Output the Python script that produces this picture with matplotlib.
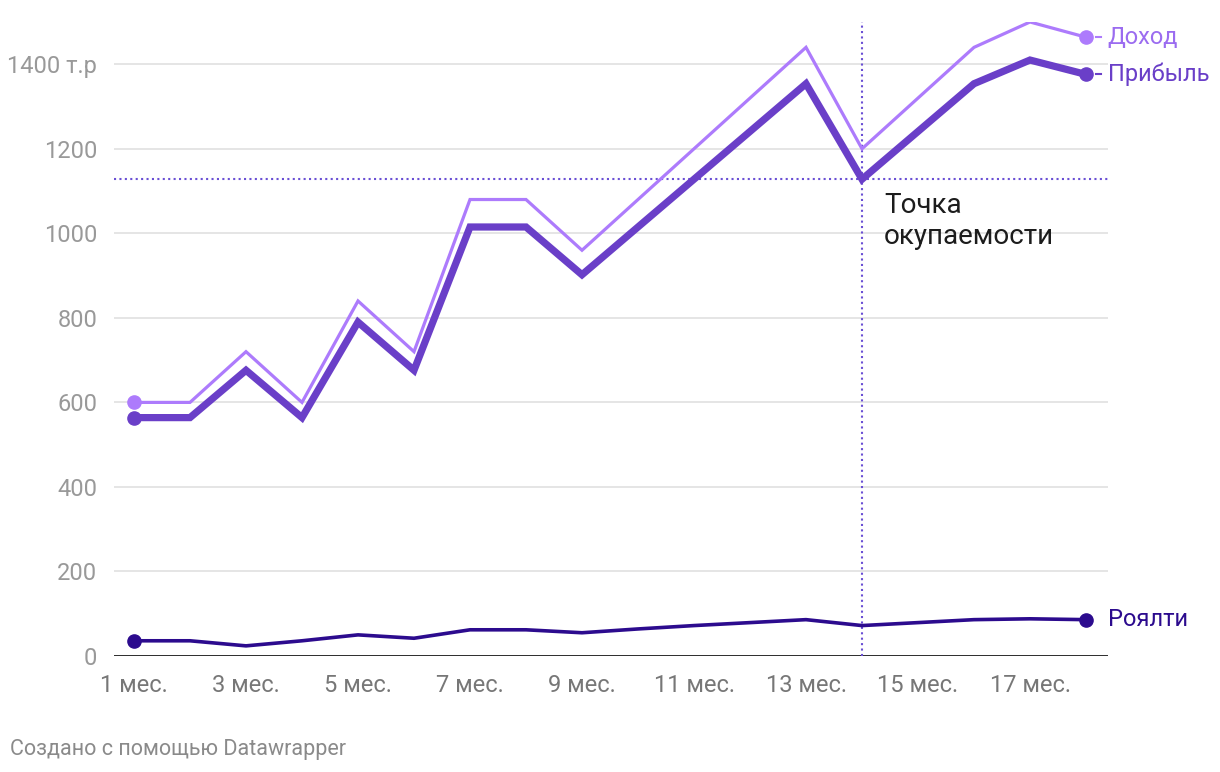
import matplotlib
matplotlib.use("Agg")
import matplotlib.pyplot as plt

plt.rcParams['font.family'] = ['Roboto', 'DejaVu Sans']

months = list(range(1, 19))
income = [600, 600, 720, 600, 840, 720, 1080, 1080, 960, 1080, 1200, 1320, 1440, 1200, 1320, 1440, 1500, 1464]
profit = [564, 564, 676, 564, 790, 676, 1015, 1015, 902, 1015, 1128, 1241, 1354, 1128, 1241, 1354, 1410, 1376]
royalty = [36, 36, 24, 36, 50, 42, 62, 62, 55, 64, 72, 79, 86, 72, 79, 86, 88, 86]
xtick_months = [1, 3, 5, 7, 9, 11, 13, 15, 17]
xtick_labels = [f"{m} мес." for m in xtick_months]
yticks = [0, 200, 400, 600, 800, 1000, 1200, 1400]
ytick_labels = ["0", "200", "400", "600", "800", "1000", "1200", "1400 т.р"]
breakeven_month = 14
breakeven_value = 1128
series_names = ["Доход", "Прибыль", "Роялти"]

c_income = '#ad7bfc'
c_profit = '#6a3fc8'
c_royalty = '#2c0b8e'
c_dot = '#6a4fd4'

W, H = 1220, 772
fig = plt.figure(figsize=(W / 100, H / 100), dpi=100)
ax = fig.add_axes([114 / W, 1 - 656 / H, (1108 - 114) / W, (656 - 22) / H])
ax.set_xlim(1 - 20 / 56, 18 + 22 / 56)
ax.set_ylim(0, 1500)

for s in ax.spines.values():
    s.set_visible(False)

for y in yticks[1:]:
    ax.axhline(y, color='#e3e3e3', lw=1.3, zorder=1)
ax.axhline(0, color='#1a1a1a', lw=2, zorder=2)

ax.axhline(breakeven_value, color=c_dot, lw=1.5, ls=(0, (1, 1.6)), zorder=2)
ax.axvline(breakeven_month, color=c_dot, lw=1.5, ls=(0, (1, 1.6)), zorder=2)

ax.plot(months, income, color=c_income, lw=2.3, zorder=4, solid_joinstyle='miter')
ax.plot(months, profit, color=c_profit, lw=5.2, zorder=5, solid_joinstyle='miter')
ax.plot(months, royalty, color=c_royalty, lw=2.6, zorder=3)

for data, col in [(income, c_income), (profit, c_profit), (royalty, c_royalty)]:
    ax.plot([months[0], months[-1]], [data[0], data[-1]], 'o', color=col,
            ms=9.5, zorder=6, clip_on=False)

ax.set_xticks(xtick_months)
ax.set_xticklabels(xtick_labels)
ax.set_yticks(yticks)
ax.set_yticklabels(ytick_labels)
ax.tick_params(axis='both', length=0, labelsize=17, labelcolor='#999999')
ax.tick_params(axis='x', pad=13, labelcolor='#777777')
ax.tick_params(axis='y', pad=12)

# end labels with small connectors
label_cols = ['#9b6cf0', c_profit, c_royalty]
for name, data, col, lc in zip(series_names, [income, profit, royalty],
                               [c_income, c_profit, c_royalty], label_cols):
    if name != "Роялти":
        ax.plot([18.18, 18.27], [data[-1], data[-1]], color=col, lw=1.5,
                clip_on=False, zorder=5)
    ax.annotate(name, xy=(18, data[-1]), xytext=(15.5, 0), textcoords='offset points',
                va='center', ha='left', fontsize=17, color=lc)

ax.annotate("Точка\nокупаемости", xy=(breakeven_month, breakeven_value),
            xytext=(16, -9), textcoords='offset points', ha='left', va='top',
            fontsize=20, color='#1c1c1c', linespacing=1.2)

fig.text(10 / W, 1 - 755 / H, "Создано с помощью Datawrapper", fontsize=15.5,
         color='#8a8a8a', ha='left', va='baseline')

fig.savefig("out.png", dpi=100, facecolor='white')
